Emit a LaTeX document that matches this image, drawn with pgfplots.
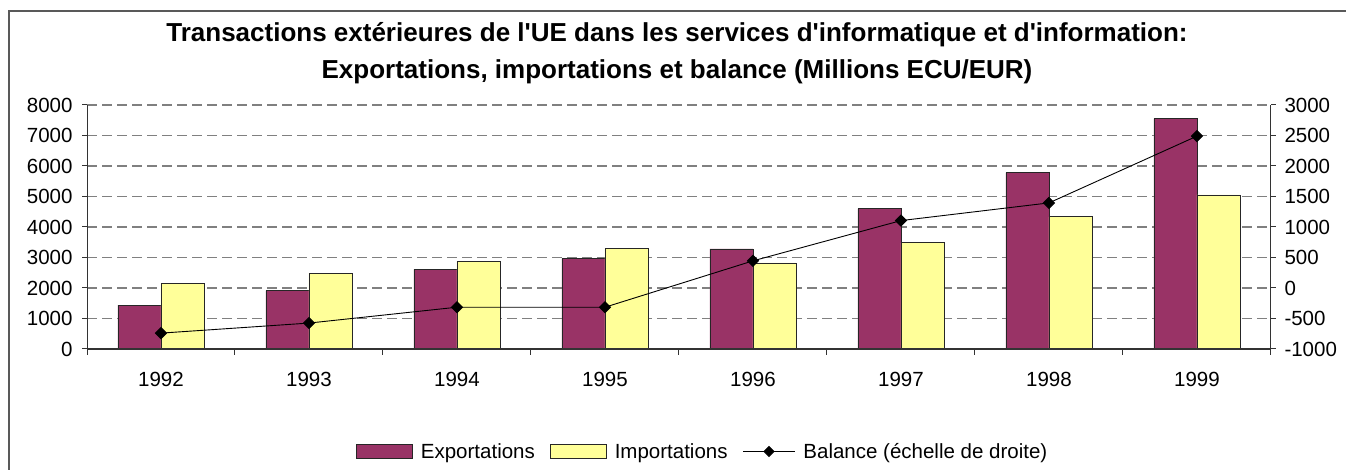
\documentclass[border=0pt]{standalone}
\usepackage{pgfplots}
\pgfplotsset{compat=1.18}
\usepackage{fontspec}
\setmainfont{Liberation Sans}[Ligatures=TeXOff]
\definecolor{plum}{HTML}{993366}
\definecolor{ivory}{HTML}{FFFF99}
\definecolor{gridgray}{HTML}{808080}
\newcommand{\tf}{\fontsize{20.5}{24}\selectfont}
\newcommand{\ttlf}{\fontsize{26}{30}\selectfont}

\pgfplotsset{
  boxlegend/.style={legend image code/.code={\draw[##1] (0pt,-7pt) rectangle (56pt,7pt);}},
  linelegend/.style={legend image code/.code={\draw[black, line width=0.9pt] (0pt,0pt) -- (52pt,0pt);
    \fill[black] (26pt,0pt) +(0,5pt) -- +(5pt,0) -- +(0,-5pt) -- +(-5pt,0) -- cycle;}},
}

\pgfplotstableread{
x exp imp bal
0 1440 2160 -740
1 1910 2490 -575
2 2610 2880 -315
3 2960 3290 -315
4 3280 2820 445
5 4600 3490 1105
6 5780 4330 1395
7 7550 5050 2490
}\data

\begin{document}
\begin{tikzpicture}[x=1pt,y=1pt]
\useasboundingbox (0,0) rectangle (1346,470);
\begin{scope}
\clip (0,0) rectangle (1346,470);
\draw[black!65, line width=1.2pt] (9,-20) rectangle (1370,459);
\end{scope}
\node[font=\ttlf\bfseries] at (677,435) {Transactions extérieures de l'UE dans les services d'informatique et d'information:};
\node[font=\ttlf\bfseries] at (677,398) {Exportations, importations et balance (Millions ECU/EUR)};

\begin{axis}[
  at={(87pt,121pt)}, anchor=south west,
  width=1184pt, height=244pt, scale only axis,
  xmin=-0.5, xmax=7.5, ymin=0, ymax=8000,
  axis x line*=bottom, axis y line*=left,
  axis line style={black!80, line width=1pt},
  tick align=outside, major tick length=5pt,
  tick style={black!80, line width=1pt},
  xtick={-0.5,0.5,...,7.5},
  xticklabels={1992,1993,1994,1995,1996,1997,1998,1999,},
  xticklabel style={xshift=74pt, yshift=-15pt, font=\tf},
  ytick={0,1000,...,8000},
  yticklabels={0,1000,2000,3000,4000,5000,6000,7000,8000},
  yticklabel style={font=\tf, xshift=-6pt},
  ymajorgrids,
  grid style={gridgray, line width=1.2pt, dash pattern=on 10pt off 5pt},
  ybar, bar width=43pt, ybar=0pt,
  clip=false,
]
\addplot[fill=plum, draw=black!85, line width=0.9pt] table[x=x,y=exp]{\data};
\addplot[fill=ivory, draw=black!85, line width=0.9pt] table[x=x,y=imp]{\data};
\draw[black!80, line width=1.2pt] (axis cs:-0.5,0) -- (axis cs:7.5,0);
\pgfplotsinvokeforeach{-0.5,0.5,...,7.5}{\draw[black!80, line width=1pt] (axis cs:#1,0) -- ++(0pt,-6pt);}
\end{axis}

\begin{axis}[
  at={(87pt,121pt)}, anchor=south west,
  width=1184pt, height=244pt, scale only axis,
  xmin=-0.5, xmax=7.5, ymin=-1000, ymax=3000,
  axis x line=none, axis y line*=right,
  axis line style={black!80, line width=1pt},
  tick align=outside, major tick length=5pt,
  tick style={black!80, line width=1pt},
  ytick={-1000,-500,...,3000},
  yticklabels={-1000,-500,0,500,1000,1500,2000,2500,3000},
  yticklabel style={font=\tf, xshift=5pt},
  clip=false,
  legend style={at={(0.52,-0.42)}, anchor=center, draw=none, fill=none,
    font=\tf, legend columns=3,
    /tikz/every odd column/.append style={column sep=6pt},
    /tikz/every even column/.append style={column sep=13pt}},
]
\addlegendimage{fill=plum, draw=black!85, line width=0.9pt, boxlegend}
\addlegendentry{Exportations}
\addlegendimage{fill=ivory, draw=black!85, line width=0.9pt, boxlegend}
\addlegendentry{Importations}
\addplot[black, line width=0.9pt, mark=square*, mark size=3.9pt, mark options={rotate=45}, linelegend]
  table[x=x,y=bal]{\data};
\addlegendentry{Balance (échelle de droite)}
\end{axis}
\end{tikzpicture}
\end{document}
